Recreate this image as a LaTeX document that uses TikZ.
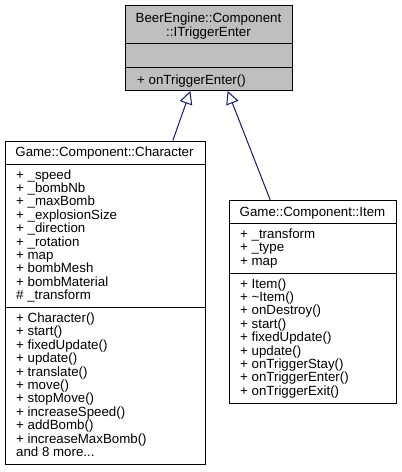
\documentclass[tikz,border=0pt]{standalone}
\usepackage{fontspec}
\setmainfont{Liberation Sans}
\usetikzlibrary{arrows.meta,calc}
\definecolor{edgeblue}{HTML}{191970}
\definecolor{headgray}{HTML}{BFBFBF}
\begin{document}
\begin{tikzpicture}[x=1pt,y=-1pt,
  comp/.style={draw=black, line width=1pt, inner sep=0pt, anchor=north west},
  txt/.style={inner sep=0pt, anchor=base west, font=\fontsize{13.3}{13.4}\selectfont},
  ttl/.style={inner sep=0pt, anchor=base, font=\fontsize{13.3}{13.4}\selectfont},
  inh/.style={draw=edgeblue, line width=1pt, -{Triangle[open, length=13pt, width=13pt]}}]
\useasboundingbox (0,0) rectangle (402,472);
% interface
\node[comp, fill=headgray, minimum width=167pt, minimum height=38pt] (iT) at (125,5) {};
\node[comp, fill=headgray, minimum width=167pt, minimum height=24pt] (iA) at (125,43) {};
\node[comp, fill=headgray, minimum width=167pt, minimum height=23pt] (iM) at (125,67) {};
\node[ttl] (iT1) at (208.5,22.5) {BeerEngine::Component};
\node[ttl] (iT2) at (208.5,36) {::ITriggerEnter};
\node[txt] (iM1) at (137,84) {+ onTriggerEnter()};
% character
\node[comp, fill=white, minimum width=200pt, minimum height=23pt] (cT) at (4.5,140.5) {};
\node[comp, fill=white, minimum width=200pt, minimum height=143.5pt] (cA) at (4.5,163.5) {};
\node[comp, fill=white, minimum width=200pt, minimum height=156.5pt] (cM) at (4.5,307) {};
\node[ttl] (cT1) at (104.5,156.5) {Game::Component::Character};
\foreach \t [count=\i] in {+ \_speed, + \_bombNb, + \_maxBomb, + \_explosionSize, + \_direction, + \_rotation, + map, + bombMesh, + bombMaterial, \# \_transform}
  \node[txt] (ca\i) at (16,{179+13.4*(\i-1)}) {\t};
\foreach \t [count=\i] in {+ Character(), + start(), + fixedUpdate(), + update(), + translate(), + move(), + stopMove(), + increaseSpeed(), + addBomb(), + increaseMaxBomb(), and 8 more{.}{.}{.}}
  \node[txt] (cm\i) at (16,{322.5+13.4*(\i-1)}) {\t};
% item
\node[comp, fill=white, minimum width=167pt, minimum height=23pt] (mT) at (229,200) {};
\node[comp, fill=white, minimum width=167pt, minimum height=49.6pt] (mA) at (229,223) {};
\node[comp, fill=white, minimum width=167pt, minimum height=130.1pt] (mM) at (229,272.6) {};
\node[ttl] (mT1) at (312.5,216) {Game::Component::Item};
\foreach \t [count=\i] in {+ \_transform, + \_type, + map}
  \node[txt] (ma\i) at (240,{238.3+13.4*(\i-1)}) {\t};
\foreach \t [count=\i] in {+ Item(), + \textasciitilde Item(), + onDestroy(), + start(), + fixedUpdate(), + update(), + onTriggerStay(), + onTriggerEnter(), + onTriggerExit()}
  \node[txt] (mm\i) at (240,{288+13.4*(\i-1)}) {\t};
% inheritance
\draw[inh] ($(cT.north west)!0.8375!(cT.north east)$) -- ($(iM.south west)!0.389!(iM.south east)$);
\draw[inh] ($(mT.north west)!0.2455!(mT.north east)$) -- ($(iM.south west)!0.611!(iM.south east)$);
\end{tikzpicture}
\end{document}
